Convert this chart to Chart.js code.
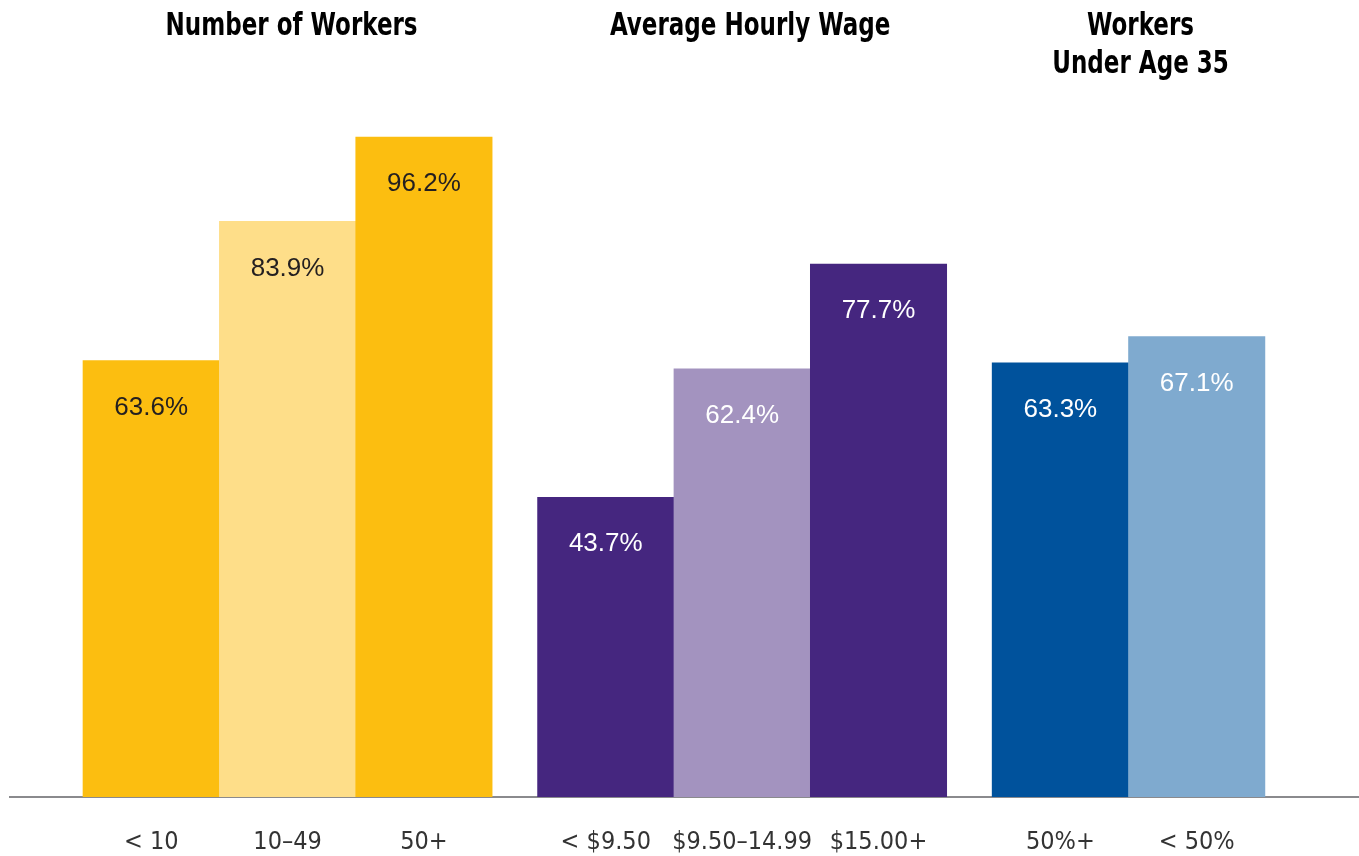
<!DOCTYPE html>
<html>
<head>
<meta charset="utf-8">
<script src="https://cdn.jsdelivr.net/npm/chart.js@4.4.1/dist/chart.umd.min.js"></script>
<style>
  html, body { margin: 0; padding: 0; background: #fff; }
  #wrap { width: 1359px; height: 856px; position: relative; }
</style>
</head>
<body>
<div id="wrap"><canvas id="chart"></canvas></div>
<script>
// categories, in drawing order
const categories = ['< 10', '10\u201349', '50+', '< $9.50', '$9.50\u201314.99', '$15.00+', '50%+', '< 50%'];
// share of workers, percent
const values = [63.6, 83.9, 96.2, 43.7, 62.4, 77.7, 63.3, 67.1];
// slot of each bar on the x axis (bars are 3 units wide, groups split by 1 unit)
const slots = [1.5, 4.5, 7.5, 11.5, 14.5, 17.5, 21.5, 24.5];
const groupOf = [0, 0, 0, 1, 1, 1, 2, 2];
const groupTitles = [['Number of Workers'], ['Average Hourly Wage'], ['Workers', 'Under Age 35']];

const barColors = ['#FCBE10', '#FEDE89', '#FCBE10', '#45267F', '#A393BF', '#45267F', '#00529C', '#7FAACF'];
const labelColors = ['#231f20', '#231f20', '#231f20', '#fff', '#fff', '#fff', '#fff', '#fff'];

const NARROW = '"Liberation Sans Narrow", "DejaVu Sans Condensed", "Roboto Condensed", sans-serif';

const overlay = {
  id: 'overlay',
  afterDatasetsDraw(chart) {
    const ctx = chart.ctx;
    const xs = chart.scales.x;
    const meta = chart.getDatasetMeta(0);
    ctx.save();
    // value labels inside bars
    ctx.font = '26px "Liberation Sans", Arial, sans-serif';
    ctx.textAlign = 'center';
    ctx.textBaseline = 'middle';
    meta.data.forEach((bar, i) => {
      ctx.fillStyle = labelColors[i];
      ctx.fillText(values[i].toFixed(1) + '%', bar.x, bar.y + 47);
    });
    // group titles, squeezed to look condensed
    ctx.fillStyle = '#000';
    ctx.font = 'bold 32px ' + NARROW;
    ctx.textBaseline = 'alphabetic';
    groupTitles.forEach((lines, g) => {
      const idx = slots.filter((s, i) => groupOf[i] === g);
      const cx = xs.getPixelForValue((idx[0] + idx[idx.length - 1]) / 2) + 4 + g * 4;
      lines.forEach((t, k) => {
        ctx.save();
        ctx.translate(cx, 35 + k * 38);
        ctx.scale(0.8, 1);
        ctx.fillText(t, 0, 0);
        ctx.restore();
      });
    });
    ctx.restore();
  }
};

new Chart(document.getElementById('chart').getContext('2d'), {
  type: 'bar',
  data: {
    datasets: [{
      data: slots.map((s, i) => ({ x: s, y: values[i] })),
      backgroundColor: barColors,
      borderWidth: 0,
      categoryPercentage: 1,
      barPercentage: 1
    }]
  },
  options: {
    responsive: true,
    maintainAspectRatio: false,
    animation: false,
    layout: { padding: { top: 111, left: 10, right: 0, bottom: 0 } },
    plugins: { legend: { display: false }, tooltip: { enabled: false } },
    scales: {
      x: {
        type: 'linear',
        offset: false,
        min: -1.606,
        max: 28.07,
        grid: { display: false, drawTicks: false },
        border: { display: true, color: '#8a8a8d', width: 2 },
        afterBuildTicks: axis => { axis.ticks = slots.map(v => ({ value: v })); },
        afterFit: axis => { axis.height = 59; },
        ticks: {
          autoSkip: false,
          maxRotation: 0,
          padding: 30,
          color: '#333',
          font: { family: NARROW, size: 25 },
          callback: (v, i) => categories[i]
        }
      },
      y: {
        display: false,
        min: 0,
        max: 100
      }
    }
  },
  plugins: [overlay]
});
</script>
</body>
</html>
